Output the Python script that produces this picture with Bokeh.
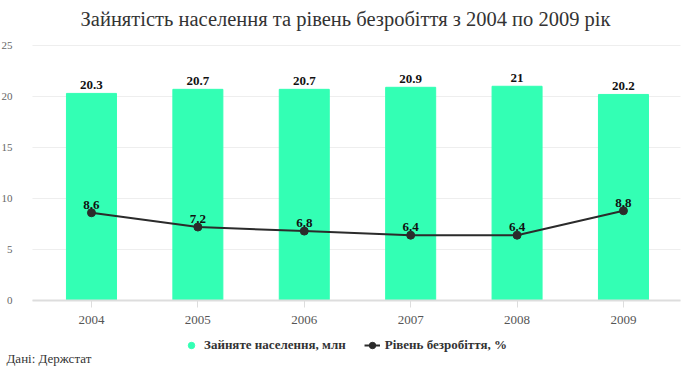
from bokeh.plotting import figure
from bokeh.models import (ColumnDataSource, LabelSet, Legend, LegendItem, Label,
                          Range1d, FixedTicker)
from bokeh.embed import file_html
from bokeh.resources import INLINE

title_text = "Зайнятість населення та рівень безробіття з 2004 по 2009 рік"
source_text = "Дані: Держстат"
years = ["2004", "2005", "2006", "2007", "2008", "2009"]
employed = [20.3, 20.7, 20.7, 20.9, 21.0, 20.2]
employed_labels = ["20.3", "20.7", "20.7", "20.9", "21", "20.2"]
unemployment = [8.6, 7.2, 6.8, 6.4, 6.4, 8.8]
unemployment_labels = ["8.6", "7.2", "6.8", "6.4", "6.4", "8.8"]
y_ticks = [0, 5, 10, 15, 20, 25]

SERIF = "Liberation Serif"
GREEN = "#33ffb4"
DARK = "#2b2b2b"

# category slots (one per year) on a numeric axis; the frame fills the whole figure
pos = list(range(len(years)))
X_START, X_END = -0.855, 5.63
PLOT_X0, PLOT_X1 = -0.5545, 5.536    # extent of the plotting area (axis line, grid)
Y_START, Y_END = -6.67, 29.41

src = ColumnDataSource(dict(x=pos, emp=employed, emp_lbl=employed_labels,
                            un=unemployment, un_lbl=unemployment_labels))

p = figure(width=690, height=368, x_range=Range1d(X_START, X_END),
           y_range=Range1d(Y_START, Y_END),
           output_backend="svg", toolbar_location=None,
           min_border_left=0, min_border_right=0, min_border_top=0, min_border_bottom=0)
p.outline_line_color = None
p.background_fill_color = "white"

# title
p.add_layout(Label(x=(X_START + X_END) / 2, y=Y_END, y_offset=-18, text=title_text,
                   text_align="center", text_baseline="middle", text_font=SERIF,
                   text_font_size="20.5px", text_color="#333333"))

# horizontal grid lines limited to the plotting area
p.segment(x0=[PLOT_X0] * len(y_ticks), x1=[PLOT_X1] * len(y_ticks), y0=y_ticks, y1=y_ticks,
          line_color="#eeeeee", line_width=1, level="underlay")

bars = p.vbar(x="x", top="emp", width=0.47, source=src, fill_color=GREEN,
              line_color=GREEN)
line = p.line(x="x", y="un", source=src, line_color=DARK, line_width=2)
dots = p.scatter(x="x", y="un", source=src, size=8, fill_color=DARK, line_color=DARK)

label_style = dict(text_align="center", text_baseline="bottom", text_font=SERIF,
                   text_font_size="13px", text_font_style="bold", text_color="#111111")
p.add_layout(LabelSet(x="x", y="emp", text="emp_lbl", source=src, y_offset=4, **label_style))
p.add_layout(LabelSet(x="x", y="un", text="un_lbl", source=src, y_offset=4, **label_style))

# axes (placed inside the frame)
p.yaxis.fixed_location = PLOT_X0
p.yaxis.ticker = FixedTicker(ticks=y_ticks)
p.yaxis.axis_line_color = None
p.yaxis.major_tick_line_color = None
p.yaxis.minor_tick_line_color = None
p.yaxis.major_label_text_font = SERIF
p.yaxis.major_label_text_font_size = "11px"
p.yaxis.major_label_text_color = "#666666"
p.yaxis.major_label_standoff = 14

p.xaxis.fixed_location = 0
p.xaxis.bounds = (PLOT_X0, PLOT_X1)
p.xaxis.ticker = FixedTicker(ticks=pos)
p.xaxis.major_label_overrides = {i: y for i, y in zip(pos, years)}
p.xaxis.axis_line_color = "#dddddd"
p.xaxis.axis_line_width = 2
p.xaxis.major_tick_line_color = "#dddddd"
p.xaxis.major_tick_in = 0
p.xaxis.major_tick_out = 7
p.xaxis.minor_tick_line_color = None
p.xaxis.major_label_text_font = SERIF
p.xaxis.major_label_text_font_size = "13px"
p.xaxis.major_label_text_color = "#555555"
p.xaxis.major_label_standoff = 9

p.xgrid.grid_line_color = None
p.ygrid.grid_line_color = None

# legend
leg_dot = p.scatter(x=[0], y=[-100], size=12, fill_color=GREEN, line_color=GREEN)
legend = Legend(items=[LegendItem(label="Зайняте населення, млн", renderers=[leg_dot]),
                       LegendItem(label="Рівень безробіття, %", renderers=[line, dots])],
                orientation="horizontal", location="bottom_center", border_line_color=None,
                background_fill_alpha=0,
                label_text_font=SERIF, label_text_font_size="13px",
                label_text_font_style="bold", label_text_color="#333333",
                glyph_width=16, glyph_height=16, spacing=18, padding=2, margin=15,
                label_standoff=5)
p.add_layout(legend, "center")

# source note
p.add_layout(Label(x=X_START, y=Y_START, x_offset=6, y_offset=3, text=source_text,
                   text_baseline="bottom", text_font=SERIF, text_font_size="13px",
                   text_color="#333333"))

open("out.html", "w").write(file_html(p, INLINE))
